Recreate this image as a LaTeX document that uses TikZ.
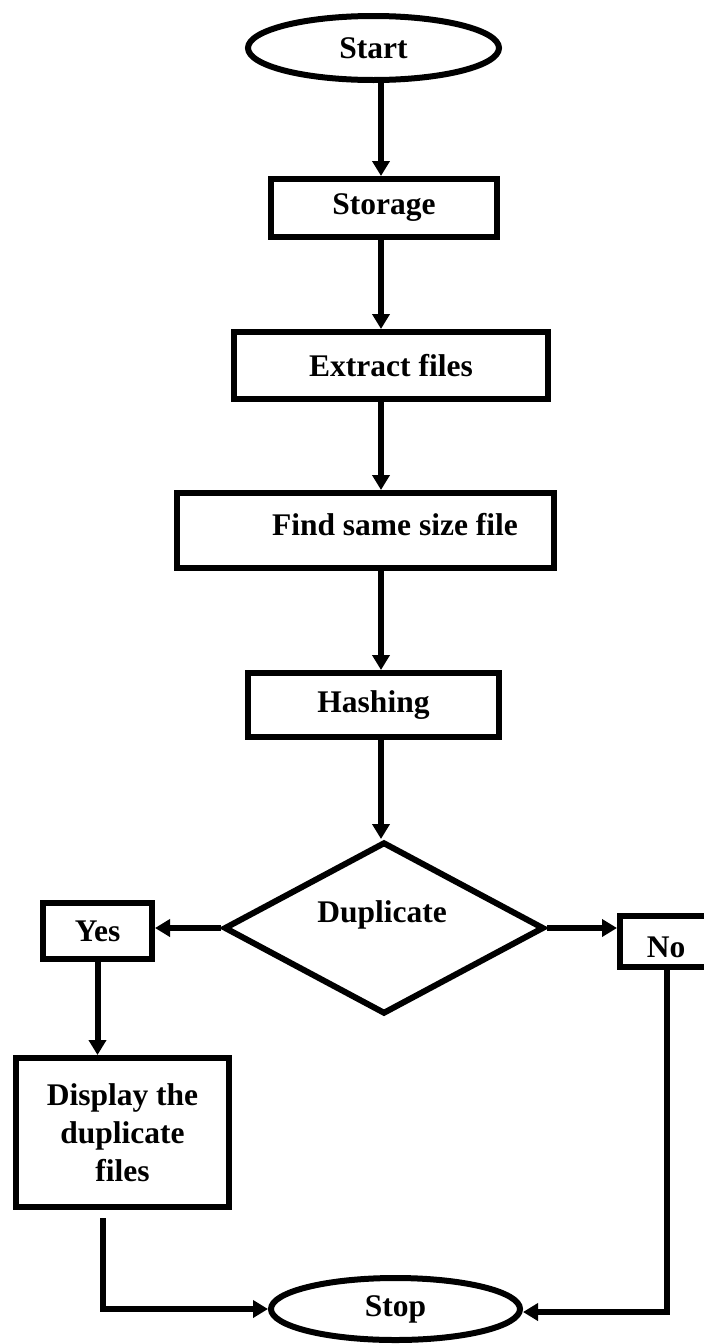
\documentclass[tikz,border=0pt]{standalone}
\usepackage{fontspec}
\setmainfont{Liberation Serif}
\usetikzlibrary{arrows.meta,shapes.geometric}
\tikzset{
  lw/.style={line width=6pt},
  txt/.style={font=\bfseries\fontsize{31.5}{38}\selectfont},
  term/.style={ellipse, draw, lw, inner sep=0pt, txt},
  procbox/.style={rectangle, draw, lw, inner sep=0pt, txt},
  decbox/.style={diamond, draw, lw, inner sep=0pt, line join=miter},
  lbl/.style={txt, inner sep=0pt, anchor=base},
  arr/.style={lw, -{Triangle[length=15pt,width=17pt]}},
  conn/.style={lw}
}
\begin{document}
\begin{tikzpicture}[x=1pt,y=-1pt]
\useasboundingbox (0,0) rectangle (704,1344);
\coordinate (ax) at (381,0);

\node[term, minimum width=251pt, minimum height=64pt] (start) at (373.5,48) {Start};
\node[procbox, minimum width=226pt, minimum height=58pt] (storage) at (384,208) {Storage};
\node[procbox, minimum width=314pt, minimum height=67pt] (extract) at (391,365.5) {Extract files};
\node[procbox, minimum width=377pt, minimum height=75pt] (find) at (365.5,530.5) {};
\node[lbl] (findlbl) at (395,535) {Find same size file};
\node[procbox, minimum width=251pt, minimum height=64pt] (hash) at (373.5,705) {Hashing};
\node[decbox, minimum width=320pt, minimum height=172pt] (dup) at (384,928) {};
\node[lbl] (duplbl) at (382,922) {Duplicate};
\node[procbox, minimum width=109pt, minimum height=56pt] (yes) at (97.5,931) {Yes};
\node[procbox, minimum width=94pt, minimum height=51pt] (no) at (667,941.5) {};
\node[lbl] (nolbl) at (666,957) {No};
\node[procbox, minimum width=213pt, minimum height=149pt, align=center] (disp) at (122.5,1132.5) {Display the\\duplicate\\files};
\node[term, minimum width=249pt, minimum height=62pt] (stop) at (395.5,1309) {Stop};

\draw[arr] (start.south -| ax) -- (storage.north -| ax);
\draw[arr] (storage.south -| ax) -- (extract.north -| ax);
\draw[arr] (extract.south -| ax) -- (find.north -| ax);
\draw[arr] (find.south -| ax) -- (hash.north -| ax);
\draw[arr] (hash.south -| ax) -- (dup.north -| ax);
\draw[arr] (dup.west) -- (yes.east |- dup.west);
\draw[arr] (dup.east) -- (no.west |- dup.east);
\draw[arr] (yes.south) -- (disp.north -| yes.south);
\coordinate (dd) at ([yshift=-8pt]disp.south -| 103,0);
\draw[arr] (dd) |- (stop.west);
\draw[arr] (no.south) |- ([yshift=-3pt]stop.east);
\end{tikzpicture}
\end{document}
